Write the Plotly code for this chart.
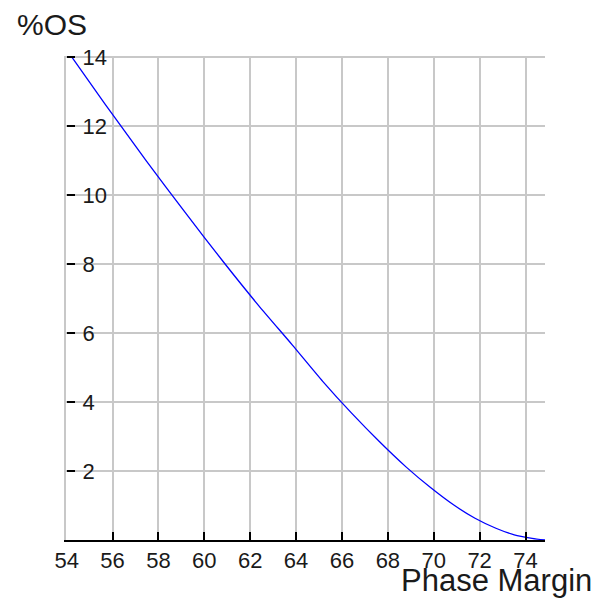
import plotly.graph_objects as go

# Data
phase_margin = [54.18, 55.68, 57.47, 59.18, 60.81, 62.35, 63.84, 65.16, 66.43,
                67.65, 68.79, 69.86, 70.86, 71.80, 72.71, 73.51, 74.29, 74.85]
percent_os = [14.04, 12.63, 10.99, 9.48, 8.08, 6.81, 5.65, 4.60, 3.67,
              2.84, 2.12, 1.52, 1.02, 0.63, 0.34, 0.15, 0.05, 0.0]
x_ticks = [54, 56, 58, 60, 62, 64, 66, 68, 70, 72, 74]
y_ticks = [2, 4, 6, 8, 10, 12, 14]

W, H = 597, 601
L, R, T, B = 66, 52, 56, 61
pw = W - L - R
ph = H - T - B

FONT = "Liberation Sans, Arial, sans-serif"
GRID = "#c8c8c8"
TXT = "#1a1a1a"
X_RANGE = [53.97, 74.85]
Y_RANGE = [0, 14.03]

fig = go.Figure()
fig.add_trace(go.Scatter(
    x=phase_margin, y=percent_os, mode="lines",
    line=dict(color="#0000ff", width=1.3, shape="spline", smoothing=0.6),
    hoverinfo="x+y", showlegend=False,
))
# invisible companion trace on the label axis so it is drawn
fig.add_trace(go.Scatter(
    x=[phase_margin[0]], y=[percent_os[0]], yaxis="y2", mode="lines",
    line=dict(width=0), hoverinfo="skip", showlegend=False,
))

fig.update_layout(
    width=W, height=H,
    margin=dict(l=L, r=R, t=T, b=B, pad=0),
    paper_bgcolor="white", plot_bgcolor="white",
    font=dict(family=FONT, size=22, color=TXT),
    xaxis=dict(
        range=X_RANGE, tickvals=x_ticks, ticktext=[str(v) for v in x_ticks],
        ticks="inside", ticklen=8, tickwidth=2, tickcolor="black",
        showline=True, linecolor="black", linewidth=2,
        showgrid=True, gridcolor=GRID, gridwidth=2, zeroline=False,
        tickfont=dict(size=22, color=TXT),
    ),
    yaxis=dict(
        range=Y_RANGE, tickvals=y_ticks,
        ticks="", showticklabels=False,
        showline=True, linecolor=GRID, linewidth=2,
        showgrid=True, gridcolor=GRID, gridwidth=2, zeroline=False,
    ),
    yaxis2=dict(
        range=Y_RANGE, tickvals=y_ticks, ticktext=[str(v) for v in y_ticks],
        overlaying="y", anchor="free", position=0, side="left",
        ticks="inside", ticklen=8, tickwidth=2, tickcolor="black",
        ticklabelposition="inside", ticklabelstandoff=9, ticklabeloverflow="allow",
        showline=False, showgrid=False, zeroline=False,
        tickfont=dict(size=22, color=TXT),
    ),
    annotations=[
        dict(text="%OS", xref="paper", yref="paper",
             x=(15 - L) / pw, y=(H - B - 25) / ph,
             xanchor="left", yanchor="middle", showarrow=False,
             font=dict(size=30, family=FONT, color=TXT)),
        dict(text="Phase Margin", xref="paper", yref="paper",
             x=(594 - L) / pw, y=(H - B - 580) / ph,
             xanchor="right", yanchor="middle", showarrow=False,
             font=dict(size=31, family=FONT, color=TXT)),
    ],
)

fig.write_html("out.html")
